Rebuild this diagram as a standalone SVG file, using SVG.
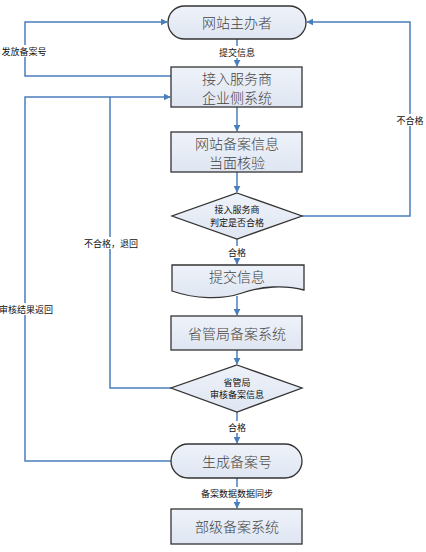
<svg xmlns="http://www.w3.org/2000/svg" width="426" height="552" viewBox="0 0 426 552">
<defs>
<linearGradient id="fillg" x1="0" y1="0" x2="0" y2="1">
<stop offset="0" stop-color="#eef2f9"/>
<stop offset="1" stop-color="#dfe6f2"/>
</linearGradient>
<marker id="arrh" viewBox="0 0 10 10" refX="9" refY="5" markerWidth="7" markerHeight="7" orient="auto" markerUnits="userSpaceOnUse">
<path d="M0,0 L10,5 L0,10 z" fill="#4a7ebb"/>
</marker>
</defs>
<style>
.node{fill:url(#fillg);stroke:#333;stroke-width:1.3}
.big{font-family:"Noto Sans CJK SC","Noto Sans",sans-serif;font-size:14px;font-weight:300;fill:#444;text-anchor:middle;dominant-baseline:central}
.small{font-family:"Noto Sans CJK SC","Noto Sans",sans-serif;font-size:9px;fill:#111;text-anchor:middle;dominant-baseline:central}
.conn{fill:none;stroke:#4a7ebb;stroke-width:1.5}
.lbl{font-family:"Noto Sans CJK SC","Noto Sans",sans-serif;font-size:9px;fill:#111;text-anchor:middle;dominant-baseline:central}
.bg{fill:#fff}
</style>
<rect width="426" height="552" fill="#fff"/>
<g id="connectors">
<path class="conn" d="M237,39 V66" marker-end="url(#arrh)"/>
<path class="conn" d="M237,107 V131" marker-end="url(#arrh)"/>
<path class="conn" d="M237,172 V192" marker-end="url(#arrh)"/>
<path class="conn" d="M237,239 V264" marker-end="url(#arrh)"/>
<path class="conn" d="M237,296 V315" marker-end="url(#arrh)"/>
<path class="conn" d="M237,350 V364" marker-end="url(#arrh)"/>
<path class="conn" d="M237,412 V443" marker-end="url(#arrh)"/>
<path class="conn" d="M237,478 V508" marker-end="url(#arrh)"/>
<path class="conn" d="M302,216 H410 V22 H307" marker-end="url(#arrh)"/>
<path class="conn" d="M171,76 H25 V22 H167" marker-end="url(#arrh)"/>
<path class="conn" d="M171,461 H25 V97 H170" marker-end="url(#arrh)"/>
<path class="conn" d="M171,388 H110 V97"/>
<path d="M172,76 A9,10.5 0 0 1 172,97" fill="none" stroke="#222" stroke-width="1" stroke-dasharray="3,2"/>
<rect class="bg" x="213" y="46" width="48" height="12"/>
<text class="lbl" x="237" y="52">提交信息</text>
<rect class="bg" x="1" y="45" width="46" height="12"/>
<text class="lbl" x="24" y="51">发放备案号</text>
<rect class="bg" x="396" y="114" width="28" height="12"/>
<text class="lbl" x="410" y="120">不合格</text>
<rect class="bg" x="224" y="246" width="26" height="12"/>
<text class="lbl" x="237" y="252">合格</text>
<rect class="bg" x="82" y="237" width="58" height="12"/>
<text class="lbl" x="111" y="243">不合格，退回</text>
<rect class="bg" x="0" y="303" width="54" height="12"/>
<text class="lbl" x="26" y="309">审核结果返回</text>
<rect class="bg" x="224" y="421" width="26" height="12"/>
<text class="lbl" x="237" y="427">合格</text>
<rect class="bg" x="198" y="487" width="78" height="12"/>
<text class="lbl" x="237" y="493">备案数据数据同步</text>
</g>
<g id="n1">
<rect class="node" x="168" y="6" width="138" height="33" rx="16.5" ry="16.5"/>
<text class="big" x="237" y="22">网站主办者</text>
</g>
<g id="n2">
<rect class="node" x="171" y="67" width="131" height="40"/>
<text class="big" x="237" y="77.5">接入服务商</text>
<text class="big" x="237" y="96.5">企业侧系统</text>
</g>
<g id="n3">
<rect class="node" x="171" y="132" width="131" height="40"/>
<text class="big" x="237" y="142.5">网站备案信息</text>
<text class="big" x="237" y="161.5">当面核验</text>
</g>
<g id="n4">
<path class="node" d="M237,193 L302,216 L237,239 L172,216 z"/>
<text class="small" x="237" y="209">接入服务商</text>
<text class="small" x="237" y="222">判定是否合格</text>
</g>
<g id="n5">
<path class="node" d="M172,265 H304 V290 C285,285 262,286 242,293 C222,300 195,299 172,291 z"/>
<text class="big" x="237" y="276">提交信息</text>
</g>
<g id="n6">
<rect class="node" x="171" y="316" width="131" height="34"/>
<text class="big" x="237" y="333">省管局备案系统</text>
</g>
<g id="n7">
<path class="node" d="M237,365 L302,388 L237,412 L171,388 z"/>
<text class="small" x="237" y="382">省管局</text>
<text class="small" x="237" y="394">审核备案信息</text>
</g>
<g id="n8">
<rect class="node" x="171" y="444" width="131" height="34" rx="17" ry="17"/>
<text class="big" x="237" y="461">生成备案号</text>
</g>
<g id="n9">
<rect class="node" x="171" y="509" width="131" height="35"/>
<text class="big" x="237" y="526">部级备案系统</text>
</g>
</svg>
